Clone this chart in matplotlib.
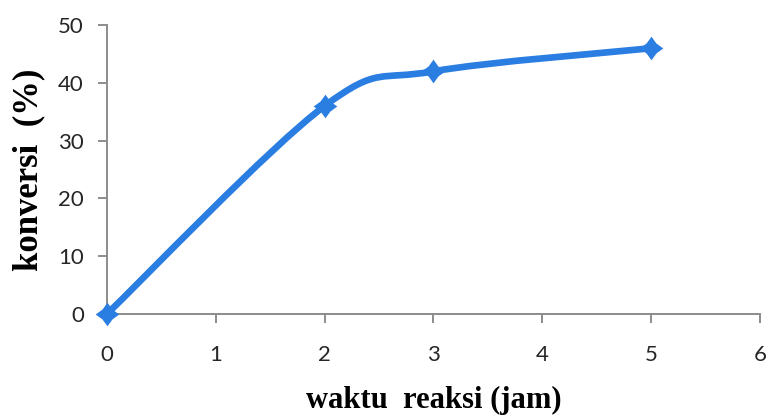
import matplotlib.pyplot as plt
import numpy as np
from matplotlib.path import Path
from matplotlib.patches import PathPatch

# reaction time (h) vs conversion (%)
waktu = [0, 2, 3, 5]
konversi = [0, 36, 42, 46]

x_ticks = [0, 1, 2, 3, 4, 5, 6]
y_ticks = [0, 10, 20, 30, 40, 50]

line_color = "#2A7DE1"
axis_color = "#8C8C8C"


def smooth_path(xs, ys, k=1 / 6):
    # Catmull-Rom style cubic Bezier through every point
    pts = np.column_stack([xs, ys]).astype(float)
    verts = [pts[0]]
    codes = [Path.MOVETO]
    n = len(pts)
    for i in range(n - 1):
        p_prev = pts[max(i - 1, 0)]
        p0, p1 = pts[i], pts[i + 1]
        p_next = pts[min(i + 2, n - 1)]
        c1 = p0 + (p1 - p_prev) * k
        c2 = p1 - (p_next - p0) * k
        verts += [c1, c2, p1]
        codes += [Path.CURVE4] * 3
    return Path(verts, codes)


# diamond with slightly pinched sides
r = 0.42
diamond = Path([(0, 1), (r, r), (1, 0), (r, -r), (0, -1), (-r, -r), (-1, 0), (-r, r), (0, 1)],
               [Path.MOVETO] + [Path.LINETO] * 7 + [Path.CLOSEPOLY])

fig = plt.figure(figsize=(7.69, 4.19), dpi=100)
ax = fig.add_axes([0.139, 0.2506, 0.849, 0.6894])

patch = PathPatch(smooth_path(waktu, konversi), facecolor="none",
                  edgecolor=line_color, linewidth=4.8, capstyle="round",
                  joinstyle="round", clip_on=False)
ax.add_patch(patch)
ax.plot(waktu, konversi, linestyle="none", marker=diamond, markersize=17,
        color=line_color, markeredgewidth=0, clip_on=False, zorder=3)

ax.set_xlim(0, 6)
ax.set_ylim(0, 50)
ax.set_xticks(x_ticks)
ax.set_yticks(y_ticks)

for side in ["top", "right"]:
    ax.spines[side].set_visible(False)
for side in ["left", "bottom"]:
    ax.spines[side].set_color(axis_color)
    ax.spines[side].set_linewidth(1.4)

ax.tick_params(axis="both", direction="out", length=6.5, width=1.4,
               color=axis_color, labelsize=16, labelcolor="#262626")
ax.tick_params(axis="x", pad=16)
ax.tick_params(axis="y", pad=10)
for lbl in ax.get_xticklabels() + ax.get_yticklabels():
    lbl.set_family("Lato")

ax.set_xlabel("waktu  reaksi (jam)", fontsize=22, fontweight="bold",
              family="Liberation Serif")
ax.set_ylabel("konversi  (%)", fontsize=25, fontweight="bold",
              family="Liberation Serif")
ax.xaxis.set_label_coords(0.5, -0.25)
ax.yaxis.set_label_coords(-0.094, 0.5)

fig.savefig("out.png", dpi=100)
